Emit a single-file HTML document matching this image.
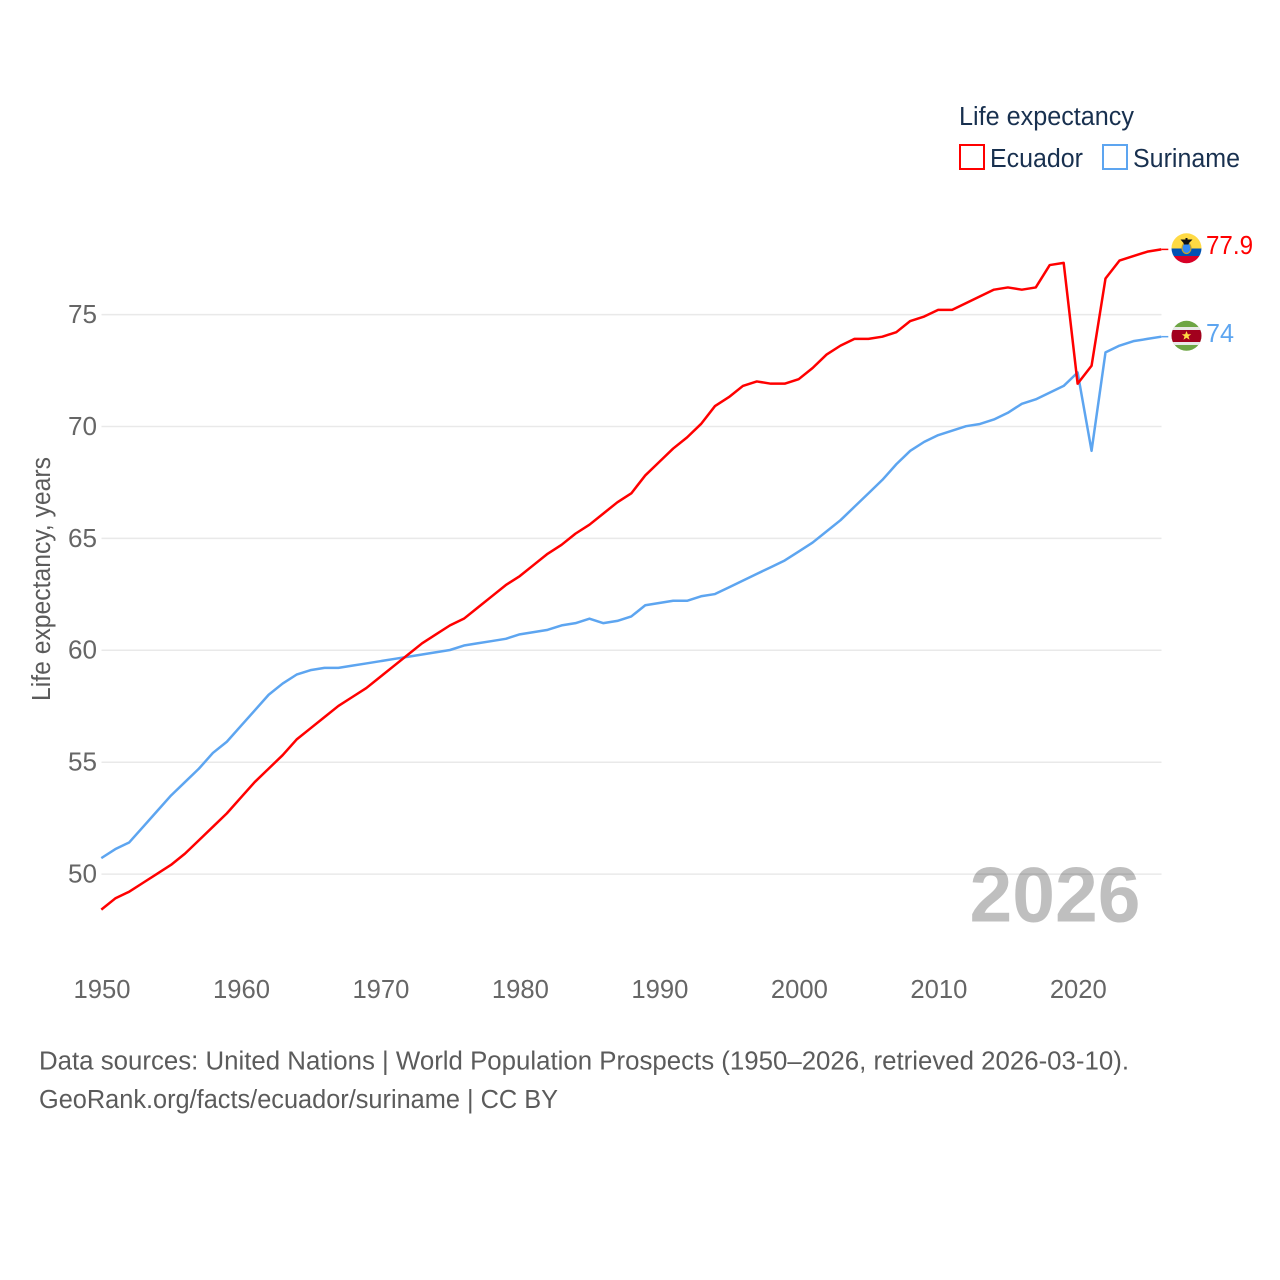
<!DOCTYPE html>
<html lang="en">
<head>
<meta charset="utf-8">
<title>Life expectancy: Ecuador and Suriname</title>
<style>
html,body{margin:0;padding:0;background:#fff;}
svg{display:block;font-family:"Liberation Sans",sans-serif;}
</style>
</head>
<body>
<svg id="chart" width="1280" height="1280" viewBox="0 0 1280 1280" xmlns="http://www.w3.org/2000/svg">
  <defs>
    <clipPath id="clip-ec"><circle cx="1186.5" cy="248.3" r="15"/></clipPath>
    <clipPath id="clip-sr"><circle cx="1186.5" cy="335.8" r="15"/></clipPath>
  </defs>
  <rect width="1280" height="1280" fill="#fff"/>
  <g id="grid"></g>
  <g id="yticks"></g>
  <g id="xticks"></g>
  <text transform="translate(50,579) rotate(-90)" text-anchor="middle" font-size="25.5" fill="#5b5b5b" textLength="244" lengthAdjust="spacingAndGlyphs">Life expectancy, years</text>
  <text x="969.5" y="921.5" font-size="78" font-weight="700" fill="#000000" fill-opacity="0.25" textLength="171" lengthAdjust="spacingAndGlyphs">2026</text>
  <g id="series"></g>

  <g>
    <text x="959" y="125" font-size="25.5" fill="#18304f" textLength="175" lengthAdjust="spacingAndGlyphs">Life expectancy</text>
    <g>
      <rect x="960" y="145" width="24" height="24" fill="none" stroke="#ff0000" stroke-width="2"/>
      <text x="990" y="167" font-size="25.5" fill="#18304f" textLength="93" lengthAdjust="spacingAndGlyphs">Ecuador</text>
    </g>
    <g>
      <rect x="1103" y="145" width="24" height="24" fill="none" stroke="#5da5f0" stroke-width="2"/>
      <text x="1133" y="167" font-size="25.5" fill="#18304f" textLength="107" lengthAdjust="spacingAndGlyphs">Suriname</text>
    </g>
  </g>

  <g clip-path="url(#clip-ec)">
    <rect x="1170" y="232" width="33" height="16.500" fill="#ffda44"/>
    <rect x="1170" y="248.500" width="33" height="7.500" fill="#0052b4"/>
    <rect x="1170" y="256" width="33" height="9" fill="#d80027"/>
    <ellipse cx="1186.500" cy="248" rx="4.500" ry="5.500" fill="#338af3" stroke="#c9a227" stroke-width="1.200"/>
    <path d="M1180.500 239.500h12l-3.500 3.500-.5 1.500h-4.500l-.5-1.500z M1185.500 238h2v3h-2z" fill="#111"/>
  </g>
  <g clip-path="url(#clip-sr)">
    <rect x="1170" y="320" width="33" height="32" fill="#6da544"/>
    <rect x="1170" y="327" width="33" height="18" fill="#e8e8e8"/>
    <rect x="1170" y="330" width="33" height="12" fill="#a2001d"/>
    <path d="M1186.500 331l1.300 3.200h3.400l-2.700 2.200 1 3.400-3-2-3 2 1-3.400-2.700-2.200h3.400z" fill="#ffda44"/>
  </g>
  <text x="1206" y="254" font-size="25.5" fill="#ff0000" textLength="47" lengthAdjust="spacingAndGlyphs">77.9</text>
  <text x="1206" y="342" font-size="25.5" fill="#5da5f0" textLength="28" lengthAdjust="spacingAndGlyphs">74</text>

  <text x="39" y="1069.500" font-size="25.5" fill="#5b5b5b" textLength="1090" lengthAdjust="spacingAndGlyphs">Data sources: United Nations | World Population Prospects (1950–2026, retrieved 2026-03-10).</text>
  <text x="39" y="1108" font-size="25.5" fill="#5b5b5b" textLength="519" lengthAdjust="spacingAndGlyphs">GeoRank.org/facts/ecuador/suriname | CC BY</text>
</svg>
<script>
const years = [1950,1951,1952,1953,1954,1955,1956,1957,1958,1959,1960,1961,1962,1963,1964,1965,1966,1967,1968,1969,1970,1971,1972,1973,1974,1975,1976,1977,1978,1979,1980,1981,1982,1983,1984,1985,1986,1987,1988,1989,1990,1991,1992,1993,1994,1995,1996,1997,1998,1999,2000,2001,2002,2003,2004,2005,2006,2007,2008,2009,2010,2011,2012,2013,2014,2015,2016,2017,2018,2019,2020,2021,2022,2023,2024,2025,2026];
const ecuadorValues = [48.4,48.9,49.2,49.6,50.0,50.4,50.9,51.5,52.1,52.7,53.4,54.1,54.7,55.3,56.0,56.5,57.0,57.5,57.9,58.3,58.8,59.3,59.8,60.3,60.7,61.1,61.4,61.9,62.4,62.9,63.3,63.8,64.3,64.7,65.2,65.6,66.1,66.6,67.0,67.8,68.4,69.0,69.5,70.1,70.9,71.3,71.8,72.0,71.9,71.9,72.1,72.6,73.2,73.6,73.9,73.9,74.0,74.2,74.7,74.9,75.2,75.2,75.5,75.8,76.1,76.2,76.1,76.2,77.2,77.3,71.9,72.7,76.6,77.4,77.6,77.8,77.9];
const surinameValues = [50.7,51.1,51.4,52.1,52.8,53.5,54.1,54.7,55.4,55.9,56.6,57.3,58.0,58.5,58.9,59.1,59.2,59.2,59.3,59.4,59.5,59.6,59.7,59.8,59.9,60.0,60.2,60.3,60.4,60.5,60.7,60.8,60.9,61.1,61.2,61.4,61.2,61.3,61.5,62.0,62.1,62.2,62.2,62.4,62.5,62.8,63.1,63.4,63.7,64.0,64.4,64.8,65.3,65.8,66.4,67.0,67.6,68.3,68.9,69.3,69.6,69.8,70.0,70.1,70.3,70.6,71.0,71.2,71.5,71.8,72.4,68.9,73.3,73.6,73.8,73.9,74.0];
const yTickValues = [50,55,60,65,70,75];
const xTickValues = [1950,1960,1970,1980,1990,2000,2010,2020];

const NS = 'http://www.w3.org/2000/svg';
const xScale = v => 101.3 + (v - 1950) * (1161.3 - 101.3) / 76;
const yScale = v => 873.8 - (v - 50) * (873.8 - 314.3) / 25;

function make(tag, parent, attrs) {
  const el = document.createElementNS(NS, tag);
  for (const k in attrs) el.setAttribute(k, attrs[k]);
  parent.appendChild(el);
  return el;
}

const grid = document.getElementById('grid');
const yticks = document.getElementById('yticks');
const xticks = document.getElementById('xticks');
const seriesGroup = document.getElementById('series');

yTickValues.forEach(v => {
  const line = make('line', grid, {x1: 101.5, x2: 1161.5, y1: yScale(v) + 0.3, y2: yScale(v) + 0.3, stroke: '#e9e9e9', 'stroke-width': 1.5});
  
  
  const label = make('text', yticks, {x: 97, y: yScale(v) + 8.7, 'text-anchor': 'end', 'font-size': 26, fill: '#666666', textLength: 29, lengthAdjust: 'spacingAndGlyphs'});
  
  
  label.textContent = v;
});

xTickValues.forEach(v => {
  const label = make('text', xticks, {x: xScale(v) + 0.7, y: 998, 'text-anchor': 'middle', 'font-size': 26, fill: '#666666', textLength: 57, lengthAdjust: 'spacingAndGlyphs'});
  
  
  label.textContent = v;
});

function drawSeries(values, color, name) {
  const pts = values.map((v, i) => xScale(years[i]).toFixed(2) + ',' + yScale(v).toFixed(2)).join(' ');
  const line = make('polyline', seriesGroup, {points: pts, fill: 'none', stroke: color, 'stroke-width': 2.5, 'stroke-linejoin': 'round'});
  
  
  const lastY = yScale(values[values.length - 1]);
  const connector = make('line', seriesGroup, {x1: xScale(years[years.length - 1]), x2: xScale(years[years.length - 1]) + 7, y1: lastY, y2: lastY, stroke: color, 'stroke-width': 1.5});
  
  
}
drawSeries(surinameValues, '#5da5f0', 'line-suriname');
drawSeries(ecuadorValues, '#ff0000', 'line-ecuador');
</script>
</body>
</html>
